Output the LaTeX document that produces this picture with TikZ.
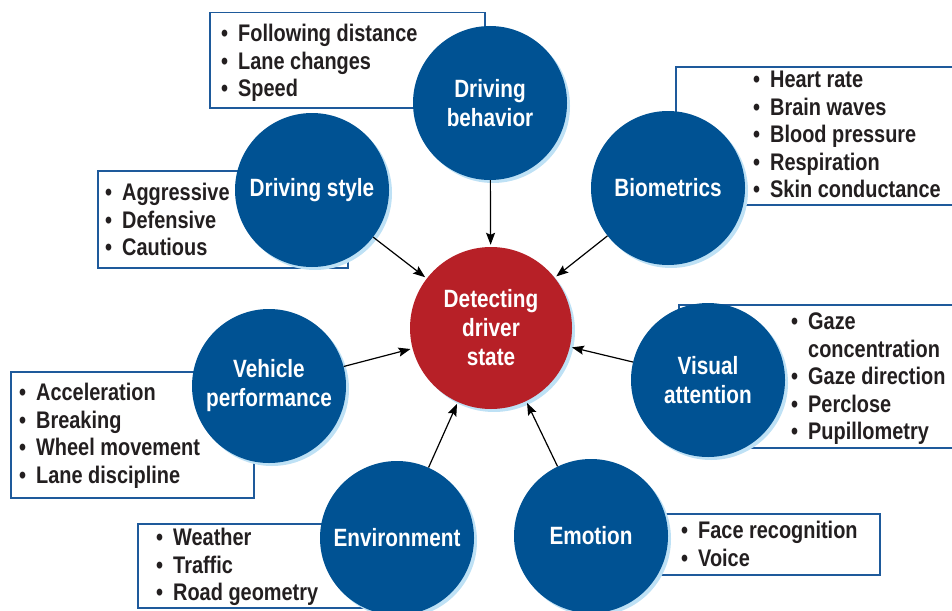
\documentclass[tikz,border=0pt]{standalone}
\usepackage{fontspec}
\setmainfont{Liberation Sans}[FakeStretch=0.83]
\usetikzlibrary{arrows.meta,shadows}
\definecolor{circblue}{RGB}{0,82,147}
\definecolor{boxblue}{RGB}{30,90,155}
\definecolor{detred}{RGB}{183,32,39}
\definecolor{glow}{RGB}{190,225,245}
\definecolor{ink}{RGB}{35,31,32}
\newcommand{\blt}{\makebox[17pt][l]{\textbullet}}
\newcommand{\hang}{\hspace*{17pt}}

\begin{document}
\begin{tikzpicture}[x=1pt,y=-1pt,
  topic/.style={circle,fill=circblue,minimum size=154pt,inner sep=0pt,text=white,align=center,
    font=\bfseries\fontsize{25}{29}\selectfont,
    drop shadow={shadow xshift=3pt,shadow yshift=-3pt,fill=glow,opacity=1}},
  listbox/.style={draw=boxblue,line width=1.5pt,fill=white,anchor=north west,inner sep=0pt},
  items/.style={anchor=north west,inner sep=0pt,align=left,text=ink,
    font=\bfseries\fontsize{24}{27.5}\selectfont},
  arr/.style={line width=1.2pt,-{Stealth[length=12pt,width=9pt,inset=2pt]},shorten >=2pt}]
\useasboundingbox (0,0) rectangle (952,610);

% boxes with the measures
\node[listbox,minimum width=275pt,minimum height=95pt]  (behbox) at (209,12) {};
\node[listbox,minimum width=290pt,minimum height=138pt] (biobox) at (675,66) {};
\node[listbox,minimum width=250pt,minimum height=97pt]  (stybox) at (97,170) {};
\node[listbox,minimum width=243pt,minimum height=126pt] (vehbox) at (10,371) {};
\node[listbox,minimum width=290pt,minimum height=143pt] (visbox) at (678,304) {};
\node[listbox,minimum width=260pt,minimum height=84pt]  (envbox) at (137,523) {};
\node[listbox,minimum width=284pt,minimum height=61pt]  (emobox) at (595,513) {};

\node[items] (behlist) at (221,24)  {\blt Following distance\\ \blt Lane changes\\ \blt Speed};
\node[items] (biolist) at (753,71)  {\blt Heart rate\\ \blt Brain waves\\ \blt Blood pressure\\ \blt Respiration\\ \blt Skin conductance};
\node[items] (stylist) at (105,183) {\blt Aggressive\\ \blt Defensive\\ \blt Cautious};
\node[items] (vehlist) at (19,383)  {\blt Acceleration\\ \blt Breaking\\ \blt Wheel movement\\ \blt Lane discipline};
\node[items] (vislist) at (791,313) {\blt Gaze\\ \hang concentration\\ \blt Gaze direction\\ \blt Perclose\\ \blt Pupillometry};
\node[items] (envlist) at (156,528) {\blt Weather\\ \blt Traffic\\ \blt Road geometry};
\node[items] (emolist) at (681,521) {\blt Face recognition\\ \blt Voice};

% circles
\node[topic] (beh) at (490,103) {Driving\\ behavior};
\node[topic] (bio) at (668,188) {Biometrics};
\node[topic] (sty) at (312,190) {Driving style};
\node[topic] (veh) at (269,386) {Vehicle\\ performance};
\node[topic] (vis) at (708,380) {Visual\\ attention};
\node[topic] (env) at (397,538) {Environment};
\node[topic] (emo) at (591,536) {Emotion};
\node[topic,fill=detred,minimum size=162pt] (det) at (491,328) {Detecting\\ driver\\ state};

\foreach \t in {beh,bio,sty,veh,vis,env,emo}
  \draw[arr] (\t) -- (det);
\end{tikzpicture}
\end{document}
